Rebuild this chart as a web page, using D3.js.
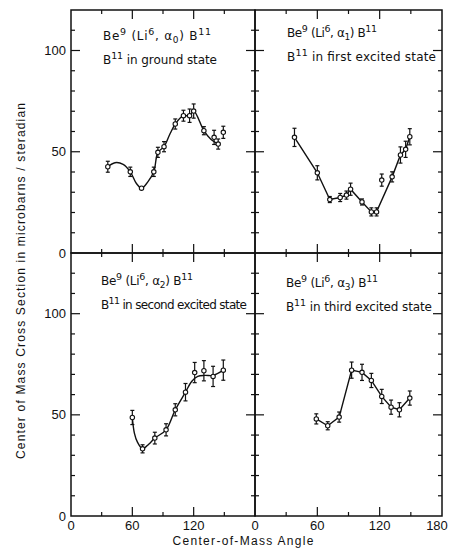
<!DOCTYPE html>
<html>
<head>
<meta charset="utf-8">
<script src="https://cdn.jsdelivr.net/npm/d3@7"></script>
<style>
  body { margin: 0; background: #fff; }
  svg { display: block; }
  text { font-family: "Liberation Sans", "DejaVu Sans", sans-serif; fill: #111; }
  text.label { font-family: "DejaVu Sans", sans-serif; }
</style>
</head>
<body>
<div id="chart"></div>
<script>
// ground state (alpha 0)
const tlAngle = [36, 58, 69, 81, 85, 91, 102, 110, 116, 120, 130, 140, 144, 149];
const tlValue = [42.6, 40.1, 32.0, 40.1, 49.7, 52.5, 63.7, 67.8, 67.8, 70.1, 60.4, 57.1, 53.8, 59.6];
const tlError = [2.7, 2.3, 0, 2.3, 2.5, 2.5, 2.5, 2.7, 3.3, 3.5, 2.0, 3.5, 2.5, 3.0];
const tlFit = [[36, 42.6], [43, 44.6], [51, 43.8], [58, 40.1], [64, 34.3], [69, 32], [75, 35], [81, 40.1],
  [85, 49.7], [91, 52.5], [97, 59], [102, 63.7], [110, 67.8], [116, 67.8], [120, 70.1], [130, 60.4],
  [137, 56], [144, 53.8]];

// first excited state (alpha 1)
const trAngle = [38, 60, 72, 82, 88, 92, 103, 112, 117, 122, 132, 140, 145, 149];
const trValue = [57.1, 39.6, 26.4, 27.4, 28.6, 31.5, 25.2, 20.3, 20.3, 36.0, 37.6, 48.4, 51.2, 57.4];
const trError = [4.5, 3.5, 1.5, 2.0, 2.0, 3.0, 1.5, 2.0, 2.0, 3.0, 2.5, 4.0, 4.0, 4.0];
const trFit = [[38, 57.1], [60, 39.6], [72, 26.4], [82, 27.4], [88, 28.6], [92, 31.5], [103, 25.2],
  [112, 20.3], [117, 20.3], [132, 37.6], [140, 48.4], [145, 51.2], [149, 57.4]];

// second excited state (alpha 2)
const blAngle = [60, 70, 82, 93, 102, 112, 121, 130, 139, 149];
const blValue = [48.7, 33.2, 38.5, 42.6, 52.5, 61.2, 70.9, 71.8, 69.0, 72.1];
const blError = [3.5, 2.0, 2.9, 3.0, 3.0, 4.3, 5.0, 5.0, 5.0, 5.0];
const blFit = [[60, 48.7], [62, 41], [65, 36.5], [70, 33.2], [76, 35.5], [82, 38.5], [93, 42.6],
  [102, 52.5], [112, 61.2], [118, 66.5], [124, 69], [131, 69.5], [139, 69.5], [149, 72.1]];

// third excited state (alpha 3)
const brAngle = [59, 70, 81, 93, 103, 112, 122, 131, 139, 149];
const brValue = [48.0, 44.6, 48.9, 72.1, 71.0, 67.0, 59.1, 53.8, 52.5, 58.3];
const brError = [2.5, 2.0, 2.5, 4.0, 4.0, 3.5, 3.5, 3.5, 3.5, 3.5];
const brFit = [[59, 48.0], [70, 44.6], [81, 48.9], [93, 72.1], [103, 71.0], [112, 67.0], [122, 59.1],
  [131, 53.8], [139, 52.5], [149, 58.3]];

const xTicks = [0, 60, 120];
const yTicks = [0, 50, 100];

const W = 451, H = 556;
const frame = { left: 71, mid: 255, right: 442, top: 10, middle: 253, bottom: 516 };

const svg = d3.select('#chart').append('svg').
  attr('width', W).
  attr('height', H);

const xLeft = d3.scaleLinear().domain([0, 180]).range([frame.left, frame.mid]);
const xRight = d3.scaleLinear().domain([0, 180]).range([frame.mid, frame.right]);
const yTop = d3.scaleLinear().domain([0, 120]).range([frame.middle, frame.top]);
const yBottom = d3.scaleLinear().domain([0, 130]).range([frame.bottom, frame.middle]);

const panels = [
  { x: xLeft, y: yTop, angle: tlAngle, value: tlValue, error: tlError, fit: tlFit, smooth: true,
    sub: '0', state: 'ground state', tx: 103, ty: 40, w1: 108, w2: 114 },
  { x: xRight, y: yTop, angle: trAngle, value: trValue, error: trError, fit: trFit, smooth: false,
    sub: '1', state: 'first excited state', tx: 287, ty: 37, w1: 90, w2: 149 },
  { x: xLeft, y: yBottom, angle: blAngle, value: blValue, error: blError, fit: blFit, smooth: true,
    sub: '2', state: 'second excited state', tx: 101, ty: 285, w1: 92, w2: 146 },
  { x: xRight, y: yBottom, angle: brAngle, value: brValue, error: brError, fit: brFit, smooth: false,
    sub: '3', state: 'third excited state', tx: 286, ty: 287, w1: 92, w2: 146 }
];

panels.forEach((p) => {
  const [x0, x1] = p.x.range();
  const [y0, y1] = p.y.range();
  const g = svg.append('g');

  // inward ticks on all four sides
  d3.range(10, p.y.domain()[1], 10).forEach((v) => {
    const len = v % 50 === 0 ? 9 : 4;
    g.append('line').attr('x1', x0).attr('x2', x0 + len).attr('y1', p.y(v)).attr('y2', p.y(v));
    g.append('line').attr('x1', x1).attr('x2', x1 - len).attr('y1', p.y(v)).attr('y2', p.y(v));
  });
  [30, 60, 90, 120, 150].forEach((a) => {
    const len = a % 60 === 0 ? 9 : 4;
    g.append('line').attr('x1', p.x(a)).attr('x2', p.x(a)).attr('y1', y0).attr('y2', y0 - len);
    g.append('line').attr('x1', p.x(a)).attr('x2', p.x(a)).attr('y1', y1).attr('y2', y1 + len);
  });

  g.append('rect').
    attr('x', x0).attr('y', y1).
    attr('width', x1 - x0).attr('height', y0 - y1).
    attr('fill', 'none').attr('stroke', '#111').attr('stroke-width', 1.5);

  const line = d3.line().
    x((d) => p.x(d[0])).
    y((d) => p.y(d[1])).
    curve(p.smooth ? d3.curveCatmullRom.alpha(0.5) : d3.curveLinear);
  g.append('path').
    attr('d', line(p.fit)).
    attr('fill', 'none').attr('stroke', '#111').attr('stroke-width', 1.4);

  // error bars
  p.angle.forEach((a, i) => {
    const e = p.error[i];
    if (!e) return;
    const cx = p.x(a), yl = p.y(p.value[i] - e), yh = p.y(p.value[i] + e);
    g.append('line').attr('x1', cx).attr('x2', cx).attr('y1', yl).attr('y2', yh);
    g.append('line').attr('x1', cx - 2).attr('x2', cx + 2).attr('y1', yl).attr('y2', yl);
    g.append('line').attr('x1', cx - 2).attr('x2', cx + 2).attr('y1', yh).attr('y2', yh);
  });
  g.selectAll('line').attr('stroke', '#111').attr('stroke-width', 1.2);

  g.selectAll('circle').
    data(p.angle).
    enter().append('circle').
      attr('cx', (d) => p.x(d)).
      attr('cy', (d, i) => p.y(p.value[i])).
      attr('r', 2.2).
      attr('fill', '#fff').
      attr('stroke', '#111').
      attr('stroke-width', 1.1);

  // reaction label
  const t1 = g.append('text').attr('class', 'label').
    attr('x', p.tx).attr('y', p.ty).
    attr('textLength', p.w1).attr('lengthAdjust', 'spacing').
    style('font-size', '12px');
  t1.append('tspan').text('Be');
  t1.append('tspan').attr('dy', -5).style('font-size', '9.5px').text('9');
  t1.append('tspan').attr('dy', 5).text(' (Li');
  t1.append('tspan').attr('dy', -5).style('font-size', '9.5px').text('6');
  t1.append('tspan').attr('dy', 5).text(', \u03b1');
  t1.append('tspan').attr('dy', 3).style('font-size', '9px').text(p.sub);
  t1.append('tspan').attr('dy', -3).text(') B');
  t1.append('tspan').attr('dy', -5).style('font-size', '9.5px').text('11');

  const t2 = g.append('text').attr('class', 'label').
    attr('x', p.tx).attr('y', p.ty + 24).
    attr('textLength', p.w2).attr('lengthAdjust', 'spacing').
    style('font-size', '12px');
  t2.append('tspan').text('B');
  t2.append('tspan').attr('dy', -5).style('font-size', '9.5px').text('11');
  t2.append('tspan').attr('dy', 5).text(' in ' + p.state);
});

// y tick labels
[yTop, yBottom].forEach((y) => {
  svg.selectAll(null).
    data(yTicks).
    enter().append('text').
      attr('x', 66).
      attr('y', (d) => y(d) + 4.5).
      attr('text-anchor', 'end').
      style('font-size', '13px').
      text((d) => d);
});

// x tick labels
[xLeft, xRight].forEach((x, k) => {
  const ticks = k === 0 ? xTicks : xTicks.concat([180]);
  svg.selectAll(null).
    data(ticks).
    enter().append('text').
      attr('x', (d) => x(d) - (d === 180 ? 5 : 0)).
      attr('y', 530).
      attr('text-anchor', 'middle').
      style('font-size', '13px').
      text((d) => d);
});

svg.append('text').
  attr('x', 243).attr('y', 545).
  attr('text-anchor', 'middle').
  attr('textLength', 141).
  style('font-size', '12px').
  text('Center-of-Mass  Angle');

svg.append('text').
  attr('transform', 'translate(25,281) rotate(-90)').
  attr('text-anchor', 'middle').
  attr('textLength', 356).
  style('font-size', '12px').
  text('Center of Mass  Cross Section in microbarns / steradian');
</script>
</body>
</html>
